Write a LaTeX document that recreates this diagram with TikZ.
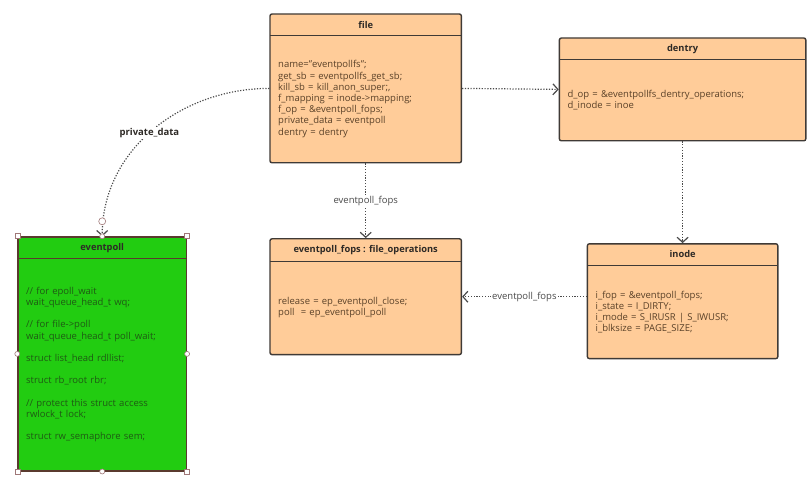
\documentclass[tikz,border=0pt]{standalone}
\usepackage{fontspec}
\setmainfont{Open Sans}
\usepackage{tikz}
\usetikzlibrary{positioning, arrows.meta, calc, backgrounds, fit}
\definecolor{peach}{HTML}{FFCC99}
\definecolor{boxline}{HTML}{3F3A36}
\definecolor{bodytext}{HTML}{5A4128}
\definecolor{headtext}{HTML}{2E2A26}
\definecolor{pollgreen}{HTML}{22CC11}
\definecolor{polltext}{HTML}{1F5A14}
\definecolor{pollline}{HTML}{5A3A2E}
\definecolor{linkgray}{HTML}{4A4A4A}
\definecolor{handle}{HTML}{A07878}

\begin{document}
\begin{tikzpicture}[x=1pt, y=1pt, node distance=0pt]
        \tikzstyle{head} = [minimum height=21pt, inner sep=0pt, text=headtext, font=\bfseries\fontsize{9.3}{10}\selectfont]
        \tikzstyle{body} = [inner xsep=8pt, inner ysep=0pt, align=left, text=bodytext, font=\fontsize{9.5}{11.2}\selectfont]
        \tikzstyle{box} = [draw=boxline, line width=1.4pt, fill=peach, rounded corners=2pt, inner sep=0pt]
        \tikzstyle{link} = [draw=linkgray, line width=1.2pt, dash pattern=on 1.2pt off 1.6pt, -{Straight Barb[length=5pt, width=11pt, line width=1.2pt]}]
        \tikzstyle{tag} = [fill=white, inner sep=1pt, text=linkgray, font=\fontsize{9.5}{10}\selectfont]
        \tikzstyle{grip} = [draw=handle, fill=white, line width=0.6pt]

        \useasboundingbox (0,0) rectangle (812,-500);

        % file
        \node [head, minimum width=191pt, anchor=north west] (filehead) at (270,-14) {file};
        \node [body, text width=175pt, minimum height=127pt, below=of filehead] (filebody) {name="eventpollfs";\\get\_sb = eventpollfs\_get\_sb;\\kill\_sb = kill\_anon\_super;,\\f\_mapping = inode->mapping;\\f\_op = \&eventpoll\_fops;\\private\_data = eventpoll\\dentry = dentry};

        % dentry
        \node [head, minimum width=246pt, anchor=north west] (denthead) at ($(filehead.north east)+(98,-24)$) {dentry};
        \node [body, text width=230pt, minimum height=81pt, below=of denthead] (dentbody) {d\_op = \&eventpollfs\_dentry\_operations;\\d\_inode = inoe};

        % eventpoll_fops
        \node [head, minimum width=191pt, minimum height=22pt, anchor=north west] (fopshead) at ($(filebody.south west)+(0,-76)$) {eventpoll\_fops : file\_operations};
        \node [body, text width=175pt, minimum height=93pt, below=of fopshead] (fopsbody) {release = ep\_eventpoll\_close;\\poll\ \ = ep\_eventpoll\_poll};

        % inode
        \node [head, minimum width=190pt, anchor=north west] (inodehead) at ($(dentbody.south west)+(28,-103)$) {inode};
        \node [body, text width=174pt, minimum height=93pt, below=of inodehead] (inodebody) {i\_fop = \&eventpoll\_fops;\\i\_state = I\_DIRTY;\\i\_mode = S\_IRUSR | S\_IWUSR;\\i\_blksize = PAGE\_SIZE;};

        % eventpoll
        \node [head, minimum width=168pt, anchor=north west] (pollhead) at (18,-237) {eventpoll};
        \node [body, text=polltext, text width=152pt, minimum height=212pt, below=of pollhead] (pollbody) {// for epoll\_wait\\wait\_queue\_head\_t wq;\\[11.2pt]// for file->poll\\wait\_queue\_head\_t poll\_wait;\\[11.2pt]struct list\_head rdllist;\\[11.2pt]struct rb\_root rbr;\\[11.2pt]// protect this struct access\\rwlock\_t lock;\\[11.2pt]struct rw\_semaphore sem;};

        \begin{scope}[on background layer]
            \node [box, fit=(filehead)(filebody)] (file) {};
            \node [box, fit=(denthead)(dentbody)] (dentry) {};
            \node [box, fit=(fopshead)(fopsbody)] (fops) {};
            \node [box, fit=(inodehead)(inodebody)] (inode) {};
            \node [box, draw=pollline, fill=pollgreen, rounded corners=0pt, fit=(pollhead)(pollbody)] (eventpoll) {};
        \end{scope}

        \draw [boxline, line width=1.4pt] (filehead.south west) -- (filehead.south east);
        \draw [boxline, line width=1.4pt] (denthead.south west) -- (denthead.south east);
        \draw [boxline, line width=1.4pt] (fopshead.south west) -- (fopshead.south east);
        \draw [boxline, line width=1.4pt] (inodehead.south west) -- (inodehead.south east);
        \draw [pollline, line width=1.4pt] (pollhead.south west) -- (pollhead.south east);

        \draw [link] (file.east) -- (dentry.west);
        \draw [link] (dentry.south) -- (inode.north);
        \draw [link] (file.south) -- (fops.north) node [tag, midway] {eventpoll\_fops};
        \draw [link] (inode.west |- fops.east) -- (fops.east) node [tag, midway] {eventpoll\_fops};
        \draw [link] (file.west) to [out=180, in=90] node [tag, pos=0.52, font=\bfseries\fontsize{9.5}{10}\selectfont, text=headtext] {private\_data} (eventpoll.north);

        % selection grips
        \coordinate (pin) at ($(eventpoll.north)+(0,15)$);
        \draw [grip] (pin) circle (3.5pt);
        \foreach \c in {north west, north east, south west, south east}
            \draw [grip] ($(eventpoll.\c)+(-2.5,-2.5)$) rectangle ++(5,5);
        \foreach \c in {north, south, west, east}
            \draw [grip] (eventpoll.\c) circle (2.5pt);
    \end{tikzpicture}
\end{document}
